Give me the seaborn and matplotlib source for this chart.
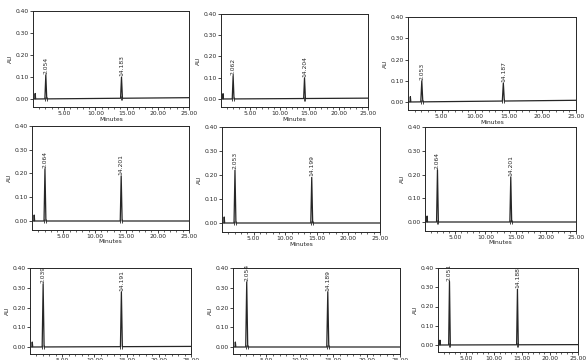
import numpy as np
import pandas as pd
import matplotlib
matplotlib.use("Agg")
import matplotlib.pyplot as plt
import seaborn as sns


# retention times (min) and labels, panel by panel
rt1 = [2.054, 2.062, 2.053, 2.064, 2.053, 2.064, 2.039, 2.054, 2.051]
rt2 = [14.183, 14.204, 14.187, 14.201, 14.199, 14.201, 14.191, 14.189, 14.188]
label1 = ['2.054', '2.062', '2.053', '2.064', '2.053', '2.064', '2.039', '2.054', '2.051']
label2 = ['14.183', '14.204', '14.187', '14.201', '14.199', '14.201', '14.191', '14.189', '14.188']

# peak heights (AU)
height1 = [0.11, 0.11, 0.10, 0.22, 0.22, 0.22, 0.32, 0.33, 0.33]
height2 = [0.10, 0.10, 0.09, 0.19, 0.19, 0.19, 0.28, 0.28, 0.29]

# baseline drift at end of run (AU)
drift = [0.006, 0.004, 0.008, 0.0, 0.0, 0.0, 0.003, 0.0, 0.002]

x_ticks = [5, 10, 15, 20, 25]
y_ticks = [0.00, 0.10, 0.20, 0.30, 0.40]

# panel boxes in pixels: left, top, right, y of 0.00
boxes = [
    (33, 11, 189, 99), (221, 14, 368, 99), (408, 17, 576, 102),
    (32, 126, 189, 221), (222, 127, 380, 223), (425, 127, 576, 222),
    (30, 268, 191, 347), (233, 268, 400, 347), (438, 268, 578, 345),
]

W, H = 587, 360
sns.set_theme(style="ticks")
plt.rcParams['font.family'] = ['DejaVu Sans']
fig = plt.figure(figsize=(W / 100, H / 100), dpi=100)

ink = '#262626'
half = 0.15  # half width of a peak at its base

for i, (l, t, r, y0) in enumerate(boxes):
    per = (y0 - t) / 0.40
    b = y0 + 0.036 * per
    ax = fig.add_axes([l / W, 1 - b / H, (r - l) / W, (b - t) / H])

    base = lambda x: drift[i] * x / 25
    trace = pd.DataFrame({
        'time': [0, 0.30, 0.35, 0.42, rt1[i] - half, rt1[i], rt1[i] + half,
                 rt2[i] - half, rt2[i], rt2[i] + half, 25],
    })
    trace['au'] = [base(v) for v in trace['time']]
    trace.loc[2, 'au'] = 0.025
    trace.loc[5, 'au'] = height1[i]
    trace.loc[8, 'au'] = height2[i]
    sns.lineplot(data=trace, x='time', y='au', ax=ax, color=ink,
                 linewidth=0.9, sort=False)

    # integration marks at peak start/end
    for rt in (rt1[i], rt2[i]):
        ax.plot([rt - half, rt + half], [base(rt), base(rt)], ls='none',
                marker='|', ms=3.5, mew=0.6, color=ink)

    ax.text(rt1[i], height1[i] + 0.004, label1[i], rotation=90, ha='center',
            va='bottom', fontsize=4.3, color=ink)
    ax.text(rt2[i], height2[i] + 0.004, label2[i], rotation=90, ha='center',
            va='bottom', fontsize=4.3, color=ink)

    ax.set_xlim(0, 25)
    ax.set_ylim(-0.036, 0.40)
    ax.set_xticks(x_ticks)
    ax.set_xticklabels([f'{v:.2f}' for v in x_ticks])
    ax.set_xticks(np.arange(1, 25), minor=True)
    ax.set_yticks(y_ticks)
    ax.set_yticklabels([f'{v:.2f}' for v in y_ticks])
    ax.tick_params(axis='both', labelsize=4.3, length=2, width=0.6, pad=1,
                   colors=ink)
    ax.tick_params(axis='x', which='minor', length=1.2, width=0.5, colors=ink)
    for s in ax.spines.values():
        s.set_visible(True)
        s.set_linewidth(0.7)
        s.set_color(ink)
    ax.set_ylabel('AU', fontsize=4.3, labelpad=2, color=ink)
    ax.set_xlabel('Minutes' if i < 6 else '', fontsize=4.3, labelpad=0.5,
                  color=ink)

fig.savefig('out.png', dpi=100)
